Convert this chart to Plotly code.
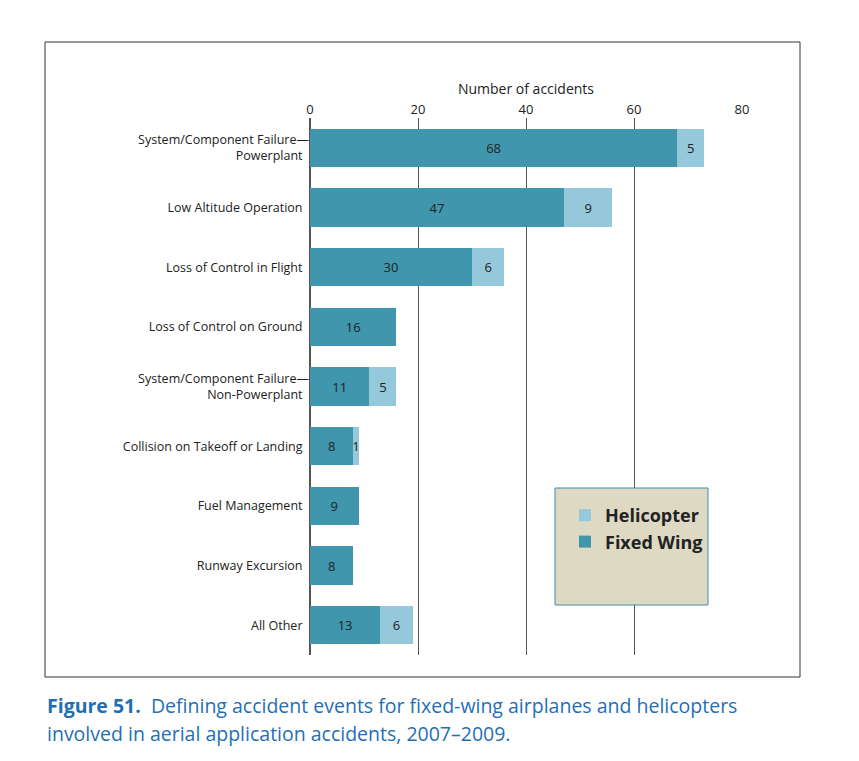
import plotly.graph_objects as go

categories = ["System/Component Failure—<br>Powerplant", "Low Altitude Operation", "Loss of Control in Flight",
              "Loss of Control on Ground", "System/Component Failure—<br>Non-Powerplant",
              "Collision on Takeoff or Landing", "Fuel Management", "Runway Excursion", "All Other"]
fixed_wing = [68, 47, 30, 16, 11, 8, 9, 8, 13]
helicopter = [5, 9, 6, 0, 5, 1, 0, 0, 6]

# page has an 8px body margin, so everything is shifted by 8px
OFF = 8

# plot area in target pixels: x 310..742, y 118..655
def px(x):
    return (x - 310) / 432

def py(y):
    return (655 - y) / 537

fig = go.Figure()
fig.add_trace(go.Bar(y=categories, x=fixed_wing, orientation="h", name="<b>Fixed Wing</b>",
                     marker=dict(color="#3f96ad", line=dict(width=0)),
                     text=fixed_wing, textposition="inside", insidetextanchor="middle",
                     textfont=dict(color="#222", size=13), cliponaxis=False))
fig.add_trace(go.Bar(y=categories, x=helicopter, orientation="h", name="<b>Helicopter</b>",
                     marker=dict(color="#94c8da", line=dict(width=0)),
                     text=[str(v) if v else "" for v in helicopter], textposition="inside",
                     insidetextanchor="middle", constraintext="none",
                     textfont=dict(color="#222", size=13), cliponaxis=False))

fig.update_layout(
    barmode="stack", bargap=0.36, width=859, height=761,
    margin=dict(l=310 - OFF, r=117 + OFF, t=118 - OFF, b=106 + OFF, autoexpand=False),
    paper_bgcolor="white", plot_bgcolor="white",
    font=dict(family="Open Sans, sans-serif", color="#222", size=13),
    xaxis=dict(side="top", range=[0, 80], dtick=20, showgrid=True, gridcolor="#555", gridwidth=1,
               zeroline=True, zerolinecolor="#555", ticks="", tickfont=dict(size=13),
               title=dict(text="Number of accidents", font=dict(size=14), standoff=2)),
    yaxis=dict(autorange="reversed", ticks="", showline=False, tickfont=dict(size=12.5), ticksuffix="  "),
    showlegend=True,
    legend=dict(x=px(565), y=py(497), xanchor="left", yanchor="top", bgcolor="rgba(0,0,0,0)",
                font=dict(size=18, color="#222", family="Open Sans, sans-serif"),
                tracegroupgap=20, itemwidth=30),
    shapes=[
        dict(type="rect", xref="paper", yref="paper", x0=px(45), x1=px(800), y0=py(677), y1=py(42),
             line=dict(color="#333", width=1), layer="below"),
        dict(type="rect", xref="paper", yref="paper", x0=px(555), x1=px(708), y0=py(605), y1=py(488),
             fillcolor="#ddd9c3", line=dict(color="#3f8fb0", width=1), layer="above"),
    ],
    annotations=[
        dict(xref="paper", yref="paper", x=px(45), y=py(705), xanchor="left", yanchor="middle",
             showarrow=False, align="left", font=dict(size=19.5, color="#1f6fb4"),
             text="<b>Figure 51.</b>  Defining accident events for fixed-wing airplanes and helicopters"),
        dict(xref="paper", yref="paper", x=px(45), y=py(733), xanchor="left", yanchor="middle",
             showarrow=False, align="left", font=dict(size=19.5, color="#1f6fb4"),
             text="involved in aerial application accidents, 2007–2009."),
    ],
)
fig.write_html("out.html")
